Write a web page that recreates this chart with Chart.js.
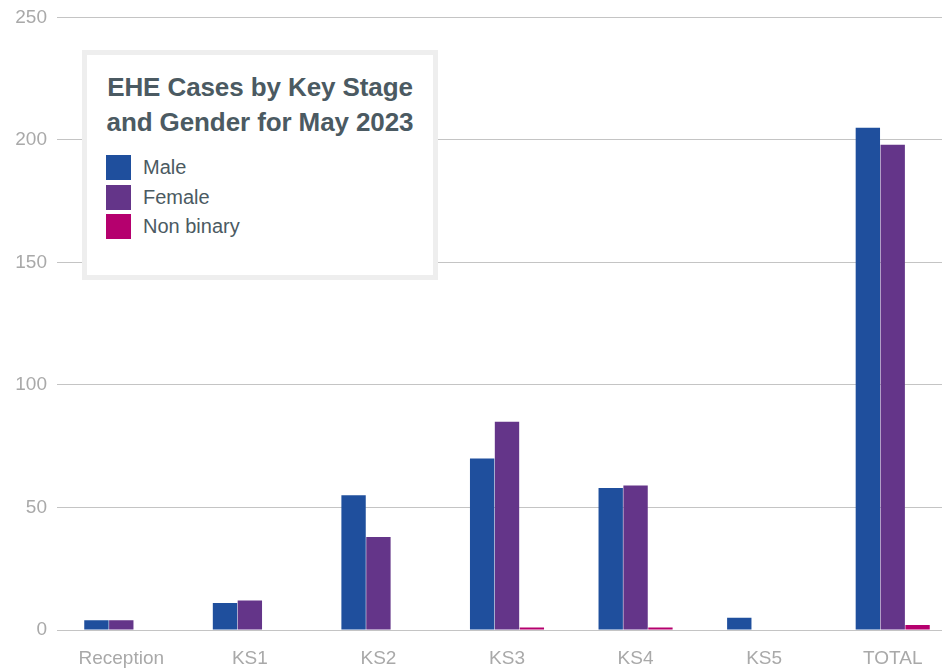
<!DOCTYPE html>
<html>
<head>
<meta charset="utf-8">
<script src="https://cdn.jsdelivr.net/npm/chart.js@4/dist/chart.umd.min.js"></script>
<style>
    html, body { margin: 0; padding: 0; background: #fff; overflow: hidden; }
    #wrap { position: relative; width: 942px; height: 668px; overflow: hidden; }
    #box { position: absolute; width: 960px; height: 672px; left: 0; top: -4px; }
    #legend {
        position: absolute; left: 82px; top: 50px; width: 346px; height: 220px;
        border: 5px solid #eeeeee; background: #fff;
        font-family: "Liberation Sans", Arial, sans-serif; color: #4b5a62;
    }
    #legend h2 {
        margin: 15px 0 0 0; font-size: 26px; line-height: 35px; font-weight: bold; text-align: center;
        letter-spacing: -0.1px;
    }
    #legend ul { list-style: none; margin: 13px 0 0 19px; padding: 0; }
    #legend li { height: 29.5px; display: flex; align-items: center; font-size: 20px; }
    #legend li span { display: inline-block; width: 25px; height: 25px; margin-right: 12px; }
</style>
</head>
<body>
<div id="wrap">
    <div id="box"><canvas id="chart" width="960" height="672"></canvas></div>
    <div id="legend"><h2>EHE Cases by Key Stage<br>and Gender for May 2023</h2><ul id="items"></ul></div>
</div>
<script>
const categories = ["Reception", "KS1", "KS2", "KS3", "KS4", "KS5", "TOTAL"];
const male = [4, 11, 55, 70, 58, 5, 205];
const female = [4, 12, 38, 85, 59, 0, 198];
const nonBinary = [0, 0, 0, 1, 1, 0, 2];
const yTicks = [0, 50, 100, 150, 200, 250];

const colors = { male: "#1f4f9d", female: "#643589", nonBinary: "#b5006e" };
const gridColor = "#c4c4c4";
const tickColor = "#a9a9a9";

const ctx = document.getElementById("chart").getContext("2d");

const chart = new Chart(ctx, {
    type: "bar",
    data: {
        labels: categories,
        datasets: [
            { label: "Male", data: male, backgroundColor: colors.male },
            { label: "Female", data: female, backgroundColor: colors.female },
            { label: "Non binary", data: nonBinary, backgroundColor: colors.nonBinary },
        ],
    },
    options: {
        responsive: false,
        animation: false,
        layout: { padding: { top: 14, right: 3, left: 0, bottom: 0 } },
        datasets: { bar: { categoryPercentage: 0.58, barPercentage: 0.98 } },
        plugins: { legend: { display: false }, tooltip: { enabled: false } },
        scales: {
            x: {
                afterFit: axis => { axis.height = 38; },
                grid: { display: false, drawTicks: false },
                border: { color: gridColor },
                ticks: {
                    color: tickColor, padding: 17, maxRotation: 0,
                    font: { family: "Liberation Sans", size: 19 },
                },
            },
            y: {
                min: 0, max: 250,
                afterBuildTicks: axis => { axis.ticks = yTicks.map(v => ({ value: v })); },
                afterFit: axis => { axis.width = 57; },
                grid: { color: gridColor, drawTicks: false },
                border: { display: false },
                ticks: {
                    color: tickColor, padding: 10,
                    font: { family: "Liberation Sans", size: 19 },
                },
            },
        },
    },
});

// legend built from the chart's own datasets
const items = document.getElementById("items");
chart.data.datasets.forEach(ds => {
    const li = document.createElement("li");
    li.innerHTML = `<span style="background:${ds.backgroundColor}"></span>${ds.label}`;
    items.appendChild(li);
});
</script>
</body>
</html>
